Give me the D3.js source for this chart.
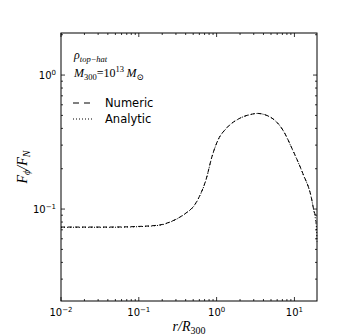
<!DOCTYPE html>
<html>
<head>
<meta charset="utf-8">
<script src="https://cdn.jsdelivr.net/npm/d3@7"></script>
<style>
  body { margin: 0; background: #fff; }
  svg { display: block; }
  .tick text { font-family: "DejaVu Sans", sans-serif; font-size: 10px; fill: #000; }
  .math { font-family: "Liberation Serif", "DejaVu Serif", serif; font-style: italic; fill: #000; }
  .leg { font-family: "DejaVu Sans", sans-serif; font-size: 11.5px; fill: #000; }
</style>
</head>
<body>
<div id="graph"></div>
<script>
// numeric profile
var rNumeric = [0.01, 0.02, 0.04, 0.07, 0.1, 0.186, 0.25, 0.336, 0.42, 0.5, 0.6, 0.74, 0.86, 1.04, 1.33, 1.97, 2.9, 3.3, 4.8, 7.1, 9.5, 12.8, 16.4, 18.0, 19.0]
var fNumeric = [0.0734, 0.0734, 0.0734, 0.0737, 0.0742, 0.0761, 0.080, 0.087, 0.095, 0.104, 0.124, 0.17, 0.24, 0.327, 0.40, 0.475, 0.512, 0.518, 0.489, 0.389, 0.276, 0.185, 0.124, 0.095, 0.088]
// analytic profile
var rAnalytic = [0.01, 0.02, 0.04, 0.07, 0.1, 0.186, 0.25, 0.336, 0.42, 0.5, 0.6, 0.74, 0.86, 1.04, 1.33, 1.97, 2.9, 3.3, 4.8, 7.1, 9.5, 12.8, 16.4, 18.0, 18.8, 19.3, 19.5]
var fAnalytic = [0.0731, 0.0731, 0.0731, 0.0734, 0.0739, 0.0758, 0.0797, 0.0867, 0.0947, 0.1035, 0.1235, 0.169, 0.239, 0.326, 0.399, 0.474, 0.511, 0.517, 0.488, 0.388, 0.275, 0.184, 0.123, 0.093, 0.081, 0.068, 0.057]

var xTicks = [0.01, 0.1, 1, 10]
var xTickLabels = [["10", "\u22122"], ["10", "\u22121"], ["10", "0"], ["10", "1"]]
var yTicks = [0.1, 1]
var yTickLabels = [["10", "\u22121"], ["10", "0"]]
var legendNames = ["Numeric", "Analytic"]

var width = 353, height = 336
var margin = {top: 33, right: 36, bottom: 35, left: 61}
var w = width - margin.left - margin.right
var h = height - margin.top - margin.bottom

var svg = d3.select('#graph').html('')
  .append('svg')
    .attr('width', width)
    .attr('height', height)

var g = svg.append('g')
    .attr('transform', 'translate(' + margin.left + ',' + margin.top + ')')

var x = d3.scaleLog().domain([0.01, 19.5]).range([0, w])
var y = d3.scaleLog().domain([0.0206, 2.06]).range([h, 0])

// minor ticks for log axes
function minors(scale){
  var d = scale.domain(), out = []
  for (var e = -3; e <= 2; e++){
    for (var k = 2; k <= 9; k++){
      var v = k * Math.pow(10, e)
      if (v > d[0] && v < d[1]) out.push(v)
    }
  }
  return out
}

function tickLabel(sel, lab){
  sel.text(null)
  sel.append('tspan').text(lab[0])
  sel.append('tspan').attr('dy', -4).attr('font-size', '7px').text(lab[1])
}

// ticks, inward, on all four sides
var tickG = g.append('g').attr('stroke', '#000').attr('stroke-width', 0.8)
xTicks.forEach(function(v){
  tickG.append('line').attr('x1', x(v)).attr('x2', x(v)).attr('y1', h).attr('y2', h - 4)
  tickG.append('line').attr('x1', x(v)).attr('x2', x(v)).attr('y1', 0).attr('y2', 4)
})
minors(x).forEach(function(v){
  tickG.append('line').attr('x1', x(v)).attr('x2', x(v)).attr('y1', h).attr('y2', h - 2)
  tickG.append('line').attr('x1', x(v)).attr('x2', x(v)).attr('y1', 0).attr('y2', 2)
})
yTicks.forEach(function(v){
  tickG.append('line').attr('y1', y(v)).attr('y2', y(v)).attr('x1', 0).attr('x2', 4)
  tickG.append('line').attr('y1', y(v)).attr('y2', y(v)).attr('x1', w).attr('x2', w - 4)
})
minors(y).forEach(function(v){
  tickG.append('line').attr('y1', y(v)).attr('y2', y(v)).attr('x1', 0).attr('x2', 2)
  tickG.append('line').attr('y1', y(v)).attr('y2', y(v)).attr('x1', w).attr('x2', w - 2)
})

// tick labels
g.selectAll('.xl').data(xTicks).enter().append('text')
    .attr('class', 'tick')
    .attr('x', function(d){ return x(d) })
    .attr('y', h + 15)
    .attr('text-anchor', 'middle')
    .style('font-family', '"DejaVu Sans", sans-serif')
    .style('font-size', '10px')
    .each(function(d, i){ tickLabel(d3.select(this), xTickLabels[i]) })

g.selectAll('.yl').data(yTicks).enter().append('text')
    .attr('x', -5)
    .attr('y', function(d){ return y(d) + 4 })
    .attr('text-anchor', 'end')
    .style('font-family', '"DejaVu Sans", sans-serif')
    .style('font-size', '10px')
    .each(function(d, i){ tickLabel(d3.select(this), yTickLabels[i]) })

// curves
var line = d3.line()
    .x(function(d){ return x(d[0]) })
    .y(function(d){ return y(d[1]) })
    .curve(d3.curveMonotoneX)

g.append('path')
    .datum(d3.zip(rNumeric, fNumeric))
    .attr('d', line)
    .attr('fill', 'none')
    .attr('stroke', '#000')
    .attr('stroke-width', 1)
    .attr('stroke-dasharray', '4,3')

g.append('path')
    .datum(d3.zip(rAnalytic, fAnalytic))
    .attr('d', line)
    .attr('fill', 'none')
    .attr('stroke', '#000')
    .attr('stroke-width', 1)
    .attr('stroke-dasharray', '1,2')

// frame
g.append('rect')
    .attr('width', w).attr('height', h)
    .attr('fill', 'none')
    .attr('stroke', '#000')
    .attr('stroke-width', 1)

// annotation text
var t1 = g.append('text').attr('class', 'math').attr('x', 13).attr('y', 26).style('font-size', '12px')
t1.append('tspan').text('\u03c1')
t1.append('tspan').attr('dy', 3).style('font-size', '8.5px').text('top\u2212hat')

var t2 = g.append('text').attr('class', 'math').attr('x', 13).attr('y', 44).style('font-size', '12px')
t2.append('tspan').text('M')
t2.append('tspan').attr('dy', 3).style('font-size', '8.5px').style('font-style', 'normal').text('300')
t2.append('tspan').attr('dy', -3).style('font-style', 'normal').text('=10')
t2.append('tspan').attr('dy', -5).style('font-size', '8.5px').style('font-style', 'normal').text('13')
t2.append('tspan').attr('dy', 5).text('\u2009M')
t2.append('tspan').attr('dy', 3).style('font-size', '8.5px').style('font-style', 'normal').text('\u2299')

// legend
var leg = g.append('g').attr('transform', 'translate(12,70)')
legendNames.forEach(function(name, i){
  leg.append('line')
      .attr('x1', 0).attr('x2', 19)
      .attr('y1', i * 16).attr('y2', i * 16)
      .attr('stroke', '#000')
      .attr('stroke-width', 1)
      .attr('stroke-dasharray', i == 0 ? '6,5' : '1,2')
  leg.append('text')
      .attr('class', 'leg')
      .attr('x', 32).attr('y', i * 16 + 4)
      .text(name)
})

// axis labels
var xl = svg.append('text').attr('class', 'math')
    .attr('x', margin.left + w / 2).attr('y', 331)
    .attr('text-anchor', 'middle')
    .style('font-size', '14px')
xl.append('tspan').text('r/R')
xl.append('tspan').attr('dy', 3).style('font-size', '10px').style('font-style', 'normal').text('300')

var yl = svg.append('text').attr('class', 'math')
    .attr('transform', 'translate(27,' + (margin.top + h / 2) + ') rotate(-90)')
    .attr('text-anchor', 'middle')
    .style('font-size', '14px')
yl.append('tspan').text('F')
yl.append('tspan').attr('dy', 3).style('font-size', '10px').text('\u03d5')
yl.append('tspan').attr('dy', -3).text('/F')
yl.append('tspan').attr('dy', 3).style('font-size', '10px').text('N')
</script>
</body>
</html>
